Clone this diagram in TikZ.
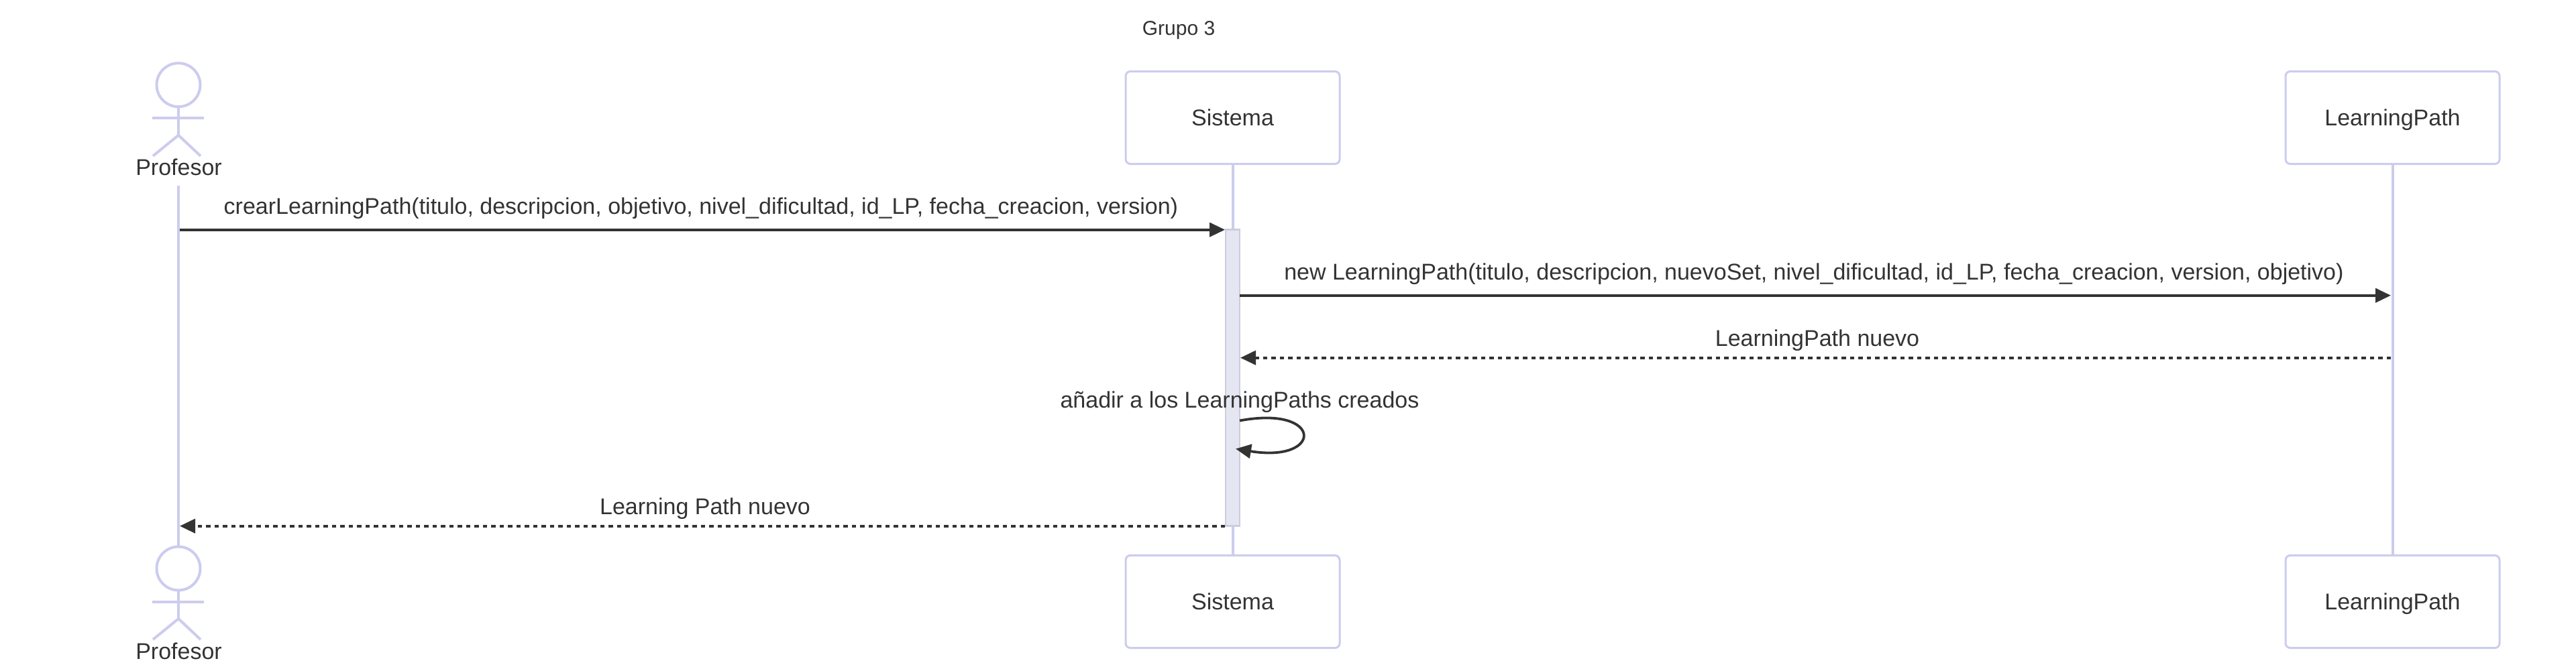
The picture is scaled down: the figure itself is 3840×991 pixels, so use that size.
\documentclass[tikz,border=0pt]{standalone}
\usepackage{fontspec}
\setmainfont{Liberation Sans}
\usetikzlibrary{arrows.meta}
\definecolor{lifecol}{HTML}{CCCCEE}
\definecolor{inkcol}{HTML}{333333}
\definecolor{actfill}{HTML}{E6E6F3}
\definecolor{actline}{HTML}{CCCCE0}
\tikzset{
  x=1pt,y=-1pt,
  lifeline/.style={draw=lifecol,line width=4pt},
  actorbox/.style={draw=lifecol,line width=3pt,fill=white,rounded corners=7pt,minimum width=319pt,minimum height=138pt,inner sep=0pt,text=inkcol,text height=24pt,text depth=0pt,font=\fontsize{34}{40}\selectfont},
  stick/.style={draw=lifecol,line width=4pt},
  actorname/.style={anchor=base,inner sep=0pt,text=inkcol,font=\fontsize{34}{40}\selectfont},
  msgtext/.style={anchor=base,inner sep=0pt,text=inkcol,font=\fontsize{34}{40}\selectfont},
  titletext/.style={anchor=base,inner sep=0pt,text=inkcol,font=\fontsize{30}{34}\selectfont},
  msg/.style={draw=inkcol,line width=3.8pt,-{Triangle[length=23pt,width=21pt,fill=inkcol]}},
  ret/.style={msg,dash pattern=on 6.5pt off 6pt},
  actbar/.style={draw=actline,line width=2.4pt,fill=actfill,minimum width=21pt,minimum height=442pt,inner sep=0pt},
}
\begin{document}
\begin{tikzpicture}
\path[fill=white,use as bounding box] (0,0) rectangle (3840,991);
% actor coordinates
\coordinate (proftop) at (266,277);
\coordinate (profbot) at (266,816);
% boxes
\node[actorbox] (sisA) at (1837.5,175.5) {Sistema};
\node[actorbox] (sisB) at (1837.5,897.5) {Sistema};
\node[actorbox] (lpA) at (3566.5,175.5) {LearningPath};
\node[actorbox] (lpB) at (3566.5,897.5) {LearningPath};
% lifelines
\draw[lifeline] (proftop) -- (profbot);
\draw[lifeline] (sisA.south) -- (sisB.north);
\draw[lifeline] (lpA.south) -- (lpB.north);
% activation
\node[actbar] (act) at (1837.5,563.5) {};
% actors
\foreach \nm/\hy/\by in {A/126.7/261, B/848/983}{
  \draw[stick] (266,\hy) circle[radius=32.5];
  \draw[stick] (266,\hy+33) -- (266,\hy+75);
  \draw[stick] (227,\hy+49.5) -- (304,\hy+49.5);
  \draw[stick] (228,\hy+106) -- (266,\hy+75) -- (299,\hy+106);
  \node[actorname] (prof\nm) at (266.5,\by) {Profesor};
}
% title
\node[titletext] (title) at (1757,52) {Grupo 3};
% message anchors
\coordinate (m1s) at (268,342.7);
\coordinate (m1e) at (1826,342.7);
\coordinate (m2s) at (1848,440.7);
\coordinate (m2e) at (3564,440.7);
\coordinate (m3s) at (3564,533.7);
\coordinate (m3e) at (1849,533.7);
\coordinate (m4s) at (1848,627.5);
\coordinate (m4e) at (1842,669.5);
\coordinate (m5s) at (1826,784.7);
\coordinate (m5e) at (268,784.7);
% messages
\draw[msg] (m1s) -- (m1e);
\draw[msg] (m2s) -- (m2e);
\draw[ret] (m3s) -- (m3e);
\draw[msg] (m4s) .. controls (1973,604) and (1973,691) .. (m4e);
\draw[ret] (m5s) -- (m5e);
% labels
\node[msgtext] (t1) at (1045,319) {crearLearningPath(titulo, descripcion, objetivo, nivel\_dificultad, id\_LP, fecha\_creacion, version)};
\node[msgtext] (t2) at (2704,417) {new LearningPath(titulo, descripcion, nuevoSet, nivel\_dificultad, id\_LP, fecha\_creacion, version, objetivo)};
\node[msgtext] (t3) at (2709,516) {LearningPath nuevo};
\node[msgtext] (t4) at (1848,608) {añadir a los LearningPaths creados};
\node[msgtext] (t5) at (1051,767) {Learning Path nuevo};
\end{tikzpicture}
\end{document}
